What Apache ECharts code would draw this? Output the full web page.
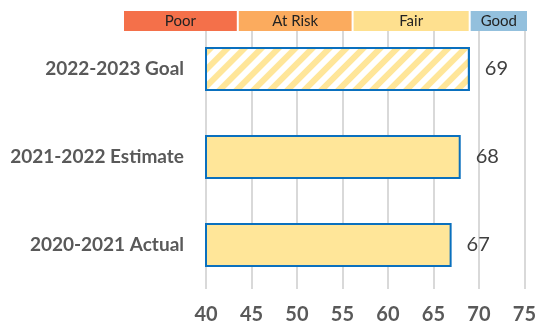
<!DOCTYPE html>
<html lang="en">
<head>
    <meta charset="UTF-8">
    <title></title>
    <style>
        html, body { margin: 0; padding: 0; background: #fff; }
        #chart { width: 539px; height: 328px; }
    </style>
</head>
<body>
    <div id="chart"></div>
    <script src="https://cdn.jsdelivr.net/npm/echarts@6/dist/echarts.min.js"></script>
    <script>
        // categories, bottom to top
        const categories = ['2020-2021 Actual', '2021-2022 Estimate', '2022-2023 Goal']
        const scores = [67, 68, 69]
        const hatched = [false, false, true] // goal bar is striped
        const xTicks = [40, 75, 5] // min, max, step

        // rating bands across the top
        const bandNames = ['Poor', 'At Risk', 'Fair', 'Good']
        const bandStart = [31, 43.5, 56, 68.75]
        const bandEnd = [43.5, 56, 68.75, 75.1]
        const bandColors = ['#F4704A', '#FBAB5E', '#FEE08F', '#93C0DD']

        const barFill = '#FFE699'
        const barEdge = '#0A70BE'

        let myChart = echarts.init(document.getElementById('chart'))

        let barData = scores.map(function (v, i) {
            let item = { value: v }
            if (hatched[i]) {
                item.itemStyle = {
                    color: '#fff',
                    decal: {
                        symbol: 'rect',
                        color: barFill,
                        backgroundColor: '#fff',
                        dashArrayX: [1, 0],
                        dashArrayY: [6, 6],
                        rotation: -Math.PI / 4
                    }
                }
            }
            return item
        })

        let bandData = bandNames.map(function (n, i) {
            return [bandStart[i], bandEnd[i], n, bandColors[i]]
        })

        let option = {
            animation: false,
            grid: [
                { left: 206, right: 12, top: 25, bottom: 39 },
                { left: 123, right: 11, top: 11, height: 20 }
            ],
            xAxis: [{
                type: 'value',
                min: xTicks[0],
                max: xTicks[1],
                interval: xTicks[2],
                axisLine: { show: false },
                axisTick: { show: false },
                axisLabel: {
                    margin: 16,
                    fontFamily: 'Lato',
                    fontWeight: 'bold',
                    fontSize: 20,
                    color: '#595959'
                },
                splitLine: { lineStyle: { color: '#D9D9D9', width: 2 } }
            }, {
                gridIndex: 1,
                type: 'value',
                min: bandStart[0],
                max: bandEnd[bandEnd.length - 1],
                show: false
            }],
            yAxis: [{
                type: 'category',
                data: categories,
                axisLine: { show: false },
                axisTick: { show: false },
                axisLabel: {
                    margin: 22,
                    fontFamily: 'Lato',
                    fontWeight: 'bold',
                    fontSize: 19,
                    color: '#595959'
                }
            }, {
                gridIndex: 1,
                type: 'value',
                min: 0,
                max: 1,
                show: false
            }],
            series: [{
                type: 'bar',
                data: barData,
                barWidth: '50%',
                itemStyle: {
                    color: barFill,
                    borderColor: barEdge,
                    borderWidth: 2
                },
                label: {
                    show: true,
                    position: 'right',
                    distance: 15,
                    fontFamily: 'Lato',
                    fontSize: 20,
                    color: '#404040'
                }
            }, {
                type: 'custom',
                xAxisIndex: 1,
                yAxisIndex: 1,
                data: bandData,
                renderItem: function (params, api) {
                    let p0 = api.coord([api.value(0), 1])
                    let p1 = api.coord([api.value(1), 0])
                    return {
                        type: 'rect',
                        shape: { x: p0[0] + 1, y: p0[1], width: p1[0] - p0[0] - 2, height: p1[1] - p0[1] },
                        style: { fill: bandColors[params.dataIndex] },
                        textContent: {
                            style: {
                                text: bandNames[params.dataIndex],
                                fill: '#222',
                                font: '15px Lato'
                            }
                        },
                        textConfig: { position: 'inside' }
                    }
                }
            }]
        }

        option && myChart.setOption(option)
    </script>
</body>
</html>
